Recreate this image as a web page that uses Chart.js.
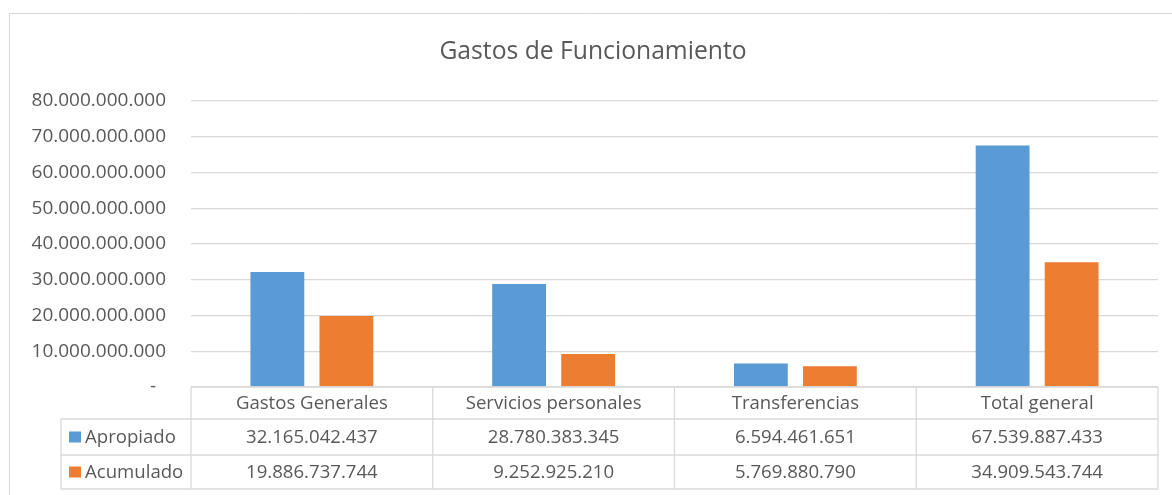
<!DOCTYPE html>
<html>
<head>
<meta charset="utf-8">
<script src="https://cdn.jsdelivr.net/npm/chart.js@4/dist/chart.umd.min.js"></script>
<style>
  body { margin: 0; background: #fff; }
  #wrap { position: relative; width: 1172px; height: 495px; }
</style>
</head>
<body>
<div id="wrap"><canvas id="grafico"></canvas></div>
<script>
const categories = ['Gastos Generales', 'Servicios personales', 'Transferencias', 'Total general'];
const seriesNames = ['Apropiado', 'Acumulado'];
const apropiado = [32165042437, 28780383345, 6594461651, 67539887433];
const acumulado = [19886737744, 9252925210, 5769880790, 34909543744];
const colors = ['#5B9BD5', '#ED7D31'];
const titleText = 'Gastos de Funcionamiento';

const FONT = '"Open Sans", "Liberation Sans", sans-serif';
const TEXT = '#595959';
const LINE = '#D9D9D9';

function fmt(v) {
  if (v === 0) return '-  ';
  return String(Math.round(v)).replace(/\B(?=(\d{3})+(?!\d))/g, '.');
}

// frame, title and data table drawn around the plot
const tablePlugin = {
  id: 'tabla',
  beforeDraw(chart) {
    const ctx = chart.ctx;
    ctx.save();
    ctx.strokeStyle = LINE;
    ctx.lineWidth = 1;
    ctx.beginPath();
    ctx.moveTo(9.5, 495);
    ctx.lineTo(9.5, 13.5);
    ctx.lineTo(1172, 13.5);
    ctx.stroke();
    ctx.fillStyle = TEXT;
    ctx.font = '24.7px ' + FONT;
    ctx.textAlign = 'center';
    ctx.textBaseline = 'middle';
    ctx.fillText(titleText, 593, 52);
    ctx.restore();
  },
  afterDraw(chart) {
    const ctx = chart.ctx;
    const area = chart.chartArea;
    const x = chart.scales.x;
    const n = categories.length;
    const step = (area.right - area.left) / n;
    const top = area.bottom;
    const rows = [top, 419, 455, 489];
    const left = 61;
    ctx.save();
    ctx.strokeStyle = LINE;
    ctx.lineWidth = 1.3;
    ctx.beginPath();
    // horizontal lines
    ctx.moveTo(area.left, rows[0]); ctx.lineTo(area.right, rows[0]);
    for (let r = 1; r < rows.length; r++) {
      ctx.moveTo(left, rows[r]); ctx.lineTo(area.right, rows[r]);
    }
    // vertical lines
    ctx.moveTo(left, rows[1]); ctx.lineTo(left, rows[3]);
    for (let i = 0; i <= n; i++) {
      const px = area.left + i * step;
      ctx.moveTo(px, rows[0]); ctx.lineTo(px, rows[3]);
    }
    ctx.stroke();

    ctx.fillStyle = TEXT;
    ctx.font = '18.6px ' + FONT;
    ctx.textBaseline = 'middle';
    ctx.textAlign = 'center';
    const series = [apropiado, acumulado];
    for (let i = 0; i < n; i++) {
      const cx = x.getPixelForValue(i);
      ctx.fillText(categories[i], cx, (rows[0] + rows[1]) / 2 + 1);
      for (let s = 0; s < series.length; s++) {
        ctx.fillText(fmt(series[s][i]), cx, (rows[s + 1] + rows[s + 2]) / 2 + 1);
      }
    }
    ctx.textAlign = 'left';
    for (let s = 0; s < seriesNames.length; s++) {
      const cy = (rows[s + 1] + rows[s + 2]) / 2;
      ctx.fillStyle = colors[s];
      ctx.fillRect(69, cy - 5.5, 12, 11);
      ctx.fillStyle = TEXT;
      ctx.fillText(seriesNames[s], 85, cy + 1);
    }
    ctx.restore();
  }
};

new Chart(document.getElementById('grafico'), {
  type: 'bar',
  data: {
    labels: categories,
    datasets: [
      { label: seriesNames[0], data: apropiado, backgroundColor: colors[0], categoryPercentage: 0.571, barPercentage: 0.78 },
      { label: seriesNames[1], data: acumulado, backgroundColor: colors[1], categoryPercentage: 0.571, barPercentage: 0.78 }
    ]
  },
  options: {
    responsive: true,
    maintainAspectRatio: false,
    animation: false,
    layout: { padding: { left: 0, right: 14, top: 101, bottom: 108 } },
    plugins: {
      legend: { display: false },
      title: { display: false },
      tooltip: { enabled: false }
    },
    scales: {
      x: { display: false },
      y: {
        min: 0,
        max: 80000000000,
        afterFit(scale) { scale.width = 191; },
        border: { display: false },
        grid: { color: LINE, lineWidth: 1.3, drawTicks: false },
        ticks: {
          stepSize: 10000000000,
          padding: 25,
          color: TEXT,
          font: { family: FONT, size: 19 },
          callback: v => fmt(v)
        }
      }
    }
  },
  plugins: [tablePlugin]
});
</script>
</body>
</html>
